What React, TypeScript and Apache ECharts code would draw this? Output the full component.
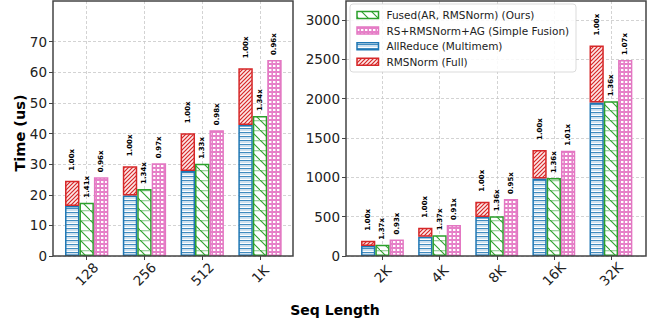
import React, { useEffect, useRef } from 'react';
import * as echarts from 'echarts';

// ---------- data ----------
const leftCategories = ['128', '256', '512', '1K'];
const leftAllReduce = [16.3, 19.8, 27.8, 42.8];
const leftRMSNorm = [8.3, 9.5, 12.3, 18.5];
const leftFused = [17.4, 21.9, 30.1, 45.7];
const leftSimple = [25.7, 30.3, 41.1, 64.0];
const leftBaseLabels = ['1.00x', '1.00x', '1.00x', '1.00x'];
const leftFusedLabels = ['1.41x', '1.34x', '1.33x', '1.34x'];
const leftSimpleLabels = ['0.96x', '0.97x', '0.98x', '0.96x'];
const leftYMax = 70;
const leftYStep = 10;

const rightCategories = ['2K', '4K', '8K', '16K', '32K'];
const rightAllReduce = [127, 246, 496, 984, 1950];
const rightRMSNorm = [68, 114, 195, 364, 725];
const rightFused = [142, 263, 505, 991, 1967];
const rightSimple = [210, 395, 725, 1339, 2493];
const rightBaseLabels = ['1.00x', '1.00x', '1.00x', '1.00x', '1.00x'];
const rightFusedLabels = ['1.37x', '1.37x', '1.36x', '1.36x', '1.36x'];
const rightSimpleLabels = ['0.93x', '0.91x', '0.95x', '1.01x', '1.07x'];
const rightYMax = 3000;
const rightYStep = 500;

const legendNames = [
  'Fused(AR, RMSNorm) (Ours)',
  'RS+RMSNorm+AG (Simple Fusion)',
  'AllReduce (Multimem)',
  'RMSNorm (Full)',
];

const FONT = 'DejaVu Sans';
const C_BLUE = '#1f77b4';
const C_RED = '#d62728';
const C_GREEN = '#2ca02c';
const C_PINK = '#e377c2';

function makePattern(w: number, h: number, draw: (ctx: CanvasRenderingContext2D) => void) {
  const c = document.createElement('canvas');
  c.width = w;
  c.height = h;
  const ctx = c.getContext('2d')!;
  draw(ctx);
  return { image: c.toDataURL(), repeat: 'repeat', imageWidth: w, imageHeight: h } as any;
}

function buildPatterns() {
  const red = makePattern(4, 4, (ctx) => {
    ctx.fillStyle = '#fde8e8';
    ctx.fillRect(0, 0, 4, 4);
    ctx.strokeStyle = C_RED;
    ctx.lineWidth = 1.2;
    ctx.beginPath();
    ctx.moveTo(-1, 5); ctx.lineTo(5, -1);
    ctx.moveTo(-3, 3); ctx.lineTo(3, -3);
    ctx.moveTo(1, 7); ctx.lineTo(7, 1);
    ctx.stroke();
  });
  const blue = makePattern(4, 4, (ctx) => {
    ctx.fillStyle = '#ffffff';
    ctx.fillRect(0, 0, 4, 4);
    ctx.fillStyle = 'rgba(31,119,180,0.85)';
    ctx.fillRect(0, 0, 4, 1);
    ctx.fillStyle = 'rgba(31,119,180,0.22)';
    ctx.fillRect(0, 1, 4, 2);
  });
  const green = makePattern(10, 10, (ctx) => {
    ctx.fillStyle = '#ffffff';
    ctx.fillRect(0, 0, 10, 10);
    ctx.fillStyle = 'rgba(44,160,44,0.45)';
    ctx.fillRect(0, 0, 10, 1.3);
    ctx.strokeStyle = C_GREEN;
    ctx.lineWidth = 1.1;
    ctx.beginPath();
    ctx.moveTo(-1, -1); ctx.lineTo(11, 11);
    ctx.stroke();
  });
  const pink = makePattern(4, 4, (ctx) => {
    ctx.fillStyle = '#e680c8';
    ctx.fillRect(0, 0, 4, 4);
    ctx.fillStyle = '#ffffff';
    ctx.fillRect(1, 1, 2.4, 2);
  });
  return { red, blue, green, pink };
}

const labelStyle = (texts: string[], distance: number) => ({
  show: true,
  position: 'top',
  rotate: 90,
  align: 'left',
  verticalAlign: 'middle',
  distance,
  fontSize: 7,
  fontWeight: 'bold',
  fontFamily: FONT,
  color: '#000',
  formatter: (p: any) => texts[p.dataIndex],
});

export default function App() {
  const ref = useRef<HTMLDivElement>(null);

  useEffect(() => {
    if (!ref.current) return;
    const chart = echarts.init(ref.current, undefined, { renderer: 'svg' });
    const P = buildPatterns();

    const gridLine = { show: true, lineStyle: { color: '#c8c8c8', type: [3, 2] as any, width: 0.8 } };
    const tickStyle = { show: true, length: 4, lineStyle: { color: '#444', width: 1 } };
    const axisLabelY = {
      fontSize: 13.5, color: '#222', fontFamily: FONT, margin: 6,
      formatter: (v: number) => String(v),
    };

    // Layout (pixels)
    const L = { frameX: 53, frameW: 240, top0: 41.7, bottom: 256, dataX: 57.8, dataW: 231.1, c0: 86.7, cW: 173.3 };
    const R = { frameX: 346, frameW: 300, top0: 20, bottom: 256, dataX: 353.9, dataW: 285.6, c0: 382.5, cW: 228.5 };
    const frameTop = 1;

    const grids: any[] = [];
    const xAxes: any[] = [];
    const yAxes: any[] = [];
    const series: any[] = [];

    const addChart = (
      key: string, S: any, cats: string[], yMax: number, yStep: number,
      ar: number[], rms: number[], fused: number[], simple: number[],
      baseL: string[], fusedL: string[], simpleL: string[],
    ) => {
      const g0 = grids.length;
      // y grid (ticks, labels, horizontal gridlines)
      grids.push({ left: S.frameX, top: S.top0, width: S.frameW, height: S.bottom - S.top0 });
      xAxes.push({ gridIndex: g0, type: 'value', show: false });
      yAxes.push({
        gridIndex: g0, type: 'value', min: 0, max: yMax, interval: yStep,
        axisLine: { show: false }, axisTick: tickStyle, axisLabel: axisLabelY, splitLine: gridLine,
      });
      // vertical grid (category ticks + labels at centers)
      grids.push({ left: S.c0, top: frameTop, width: S.cW, height: S.bottom - frameTop });
      xAxes.push({
        gridIndex: g0 + 1, type: 'category', data: cats, boundaryGap: false,
        axisLine: { show: false }, axisTick: tickStyle,
        axisLabel: {
          interval: 0, rotate: 45, align: 'center', verticalAlign: 'middle', margin: 18,
          fontSize: 13.5, color: '#222', fontFamily: FONT,
        },
        splitLine: gridLine,
      });
      yAxes.push({ gridIndex: g0 + 1, type: 'value', show: false, splitLine: { show: false } });
      // data grid
      grids.push({ left: S.dataX, top: S.top0, width: S.dataW, height: S.bottom - S.top0 });
      xAxes.push({ gridIndex: g0 + 2, type: 'category', data: cats, show: false, boundaryGap: true });
      yAxes.push({ gridIndex: g0 + 2, type: 'value', min: 0, max: yMax, show: false, splitLine: { show: false } });

      const common = { type: 'bar', xAxisIndex: g0 + 2, yAxisIndex: g0 + 2, barGap: '0%', barCategoryGap: '25%' };
      const stackName = 'total_' + key;
      series.push({
        ...common, name: legendNames[2], stack: stackName, data: ar,
        itemStyle: { color: P.blue, borderColor: C_BLUE, borderWidth: 1.5 },
      });
      series.push({
        ...common, name: legendNames[3], stack: stackName, data: rms,
        itemStyle: { color: P.red, borderColor: C_RED, borderWidth: 1.5 },
        label: labelStyle(baseL, 10),
      });
      series.push({
        ...common, name: legendNames[0], data: fused,
        itemStyle: { color: P.green, borderColor: C_GREEN, borderWidth: 1.5 },
        label: labelStyle(fusedL, 5),
      });
      series.push({
        ...common, name: legendNames[1], data: simple,
        itemStyle: { color: P.pink, borderColor: C_PINK, borderWidth: 1.5 },
        label: labelStyle(simpleL, 5),
      });
    };

    addChart('L', L, leftCategories, leftYMax, leftYStep, leftAllReduce, leftRMSNorm, leftFused, leftSimple,
      leftBaseLabels, leftFusedLabels, leftSimpleLabels);
    addChart('R', R, rightCategories, rightYMax, rightYStep, rightAllReduce, rightRMSNorm, rightFused, rightSimple,
      rightBaseLabels, rightFusedLabels, rightSimpleLabels);

    const legendFills = [
      { fill: P.green, stroke: C_GREEN },
      { fill: P.pink, stroke: C_PINK },
      { fill: P.blue, stroke: C_BLUE },
      { fill: P.red, stroke: C_RED },
    ];
    const legendEls: any[] = [
      {
        type: 'rect', shape: { x: 350, y: 4, width: 226, height: 68, r: 3 },
        style: { fill: 'rgba(255,255,255,0.85)', stroke: 'rgba(210,210,210,0.8)', lineWidth: 1 }, z: 20,
      },
    ];
    legendNames.forEach((n, i) => {
      const cy = 15 + i * 15.6;
      legendEls.push({
        type: 'rect', shape: { x: 357, y: cy - 3.5, width: 21.5, height: 7 },
        style: { fill: legendFills[i].fill, stroke: legendFills[i].stroke, lineWidth: 1.5 }, z: 21,
      });
      legendEls.push({
        type: 'text', x: 386.5, y: cy, z: 21,
        style: { text: n, fontSize: 10.5, fontFamily: FONT, fill: '#222', align: 'left', verticalAlign: 'middle' },
      });
    });

    chart.setOption({
      animation: false,
      grid: grids,
      xAxis: xAxes,
      yAxis: yAxes,
      series,
      graphic: [
        {
          type: 'rect', shape: { x: L.frameX, y: frameTop, width: L.frameW, height: L.bottom - frameTop },
          style: { fill: 'none', stroke: '#444', lineWidth: 1.5 }, z: 10,
        },
        {
          type: 'rect', shape: { x: R.frameX, y: frameTop, width: R.frameW, height: R.bottom - frameTop },
          style: { fill: 'none', stroke: '#444', lineWidth: 1.5 }, z: 10,
        },
        {
          type: 'text', x: 20, y: 133, rotation: Math.PI / 2, z: 10,
          style: {
            text: 'Time (us)', fontSize: 14.5, fontWeight: 'bold', fontFamily: FONT, fill: '#000',
            align: 'center', verticalAlign: 'middle',
          },
        },
        {
          type: 'text', x: 335, y: 309.5, z: 10,
          style: {
            text: 'Seq Length', fontSize: 14, fontWeight: 'bold', fontFamily: FONT, fill: '#000',
            align: 'center', verticalAlign: 'middle',
          },
        },
        ...legendEls,
      ],
    });

    return () => chart.dispose();
  }, []);

  return (
    <div
      ref={ref}
      style={{ position: 'absolute', left: 0, top: 0, width: 655, height: 325, background: '#fff' }}
    />
  );
}
